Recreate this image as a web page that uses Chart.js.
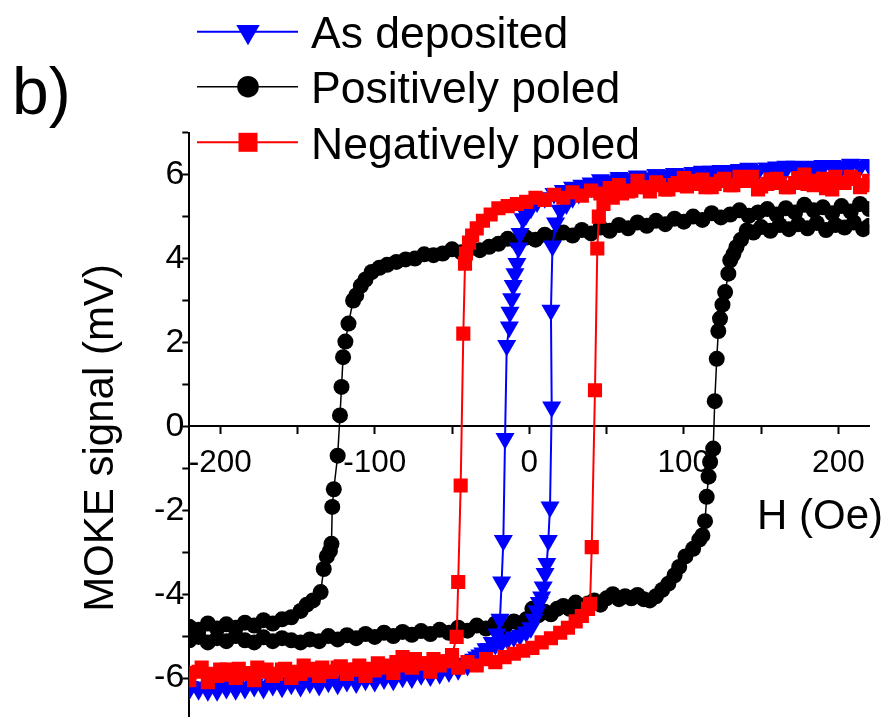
<!DOCTYPE html>
<html>
<head>
<meta charset="utf-8">
<script src="https://cdn.jsdelivr.net/npm/chart.js@4.4.0/dist/chart.umd.min.js"></script>
<style>
  html, body { margin: 0; padding: 0; background: #fff; overflow: hidden; }
  #wrap { width: 891px; height: 760px; }
</style>
</head>
<body>
<div id="wrap"><canvas id="moke" width="891" height="760"></canvas></div>
<script>
// As deposited: field sweep down (+220 -> -220), then up (-220 -> +220)
const depDownH = [220,214,208,202,196,190,184,178,172,166, 160,154,148,142,136,130,124,118,112,106,
  100,94,88,82,76,70,64,58,52,46, 40,34,28,22,16,10,5,1,-2,-4,
  -6,-7,-8,-9.3,-10.4,-11.4,-12.5,-12.9,-14.6,-15.7, -16.8,-17.9,-19,-21,-24,-28,-32,-36,-40,-46,
  -52,-58,-64,-70,-76,-82,-88,-94,-100,-106, -112,-118,-124,-130,-136,-142,-148,-154,-160,-166,
  -172,-178,-184,-190,-196,-202,-208,-214,-220];
const depDownM = [6.22,6.18,6.24,6.15,6.2,6.22,6.12,6.18,6.15,6.2, 6.1,6.15,6.08,6.12,6.05,6.1,6.02,6.08,6.0,6.05,
  5.98,6.03,5.95,6.0,5.92,5.97,5.9,5.93,5.85,5.88, 5.8,5.75,5.7,5.62,5.55,5.45,5.35,5.2,5.05,4.95,
  4.6,4.25,3.88,3.64,3.36,3.04,2.72,2.37,1.93,-0.29, -2.72,-3.71,-4.6,-4.95,-5.15,-5.3,-5.45,-5.55,-5.7,-5.8,
  -5.85,-5.9,-5.95,-5.92,-6.0,-5.98,-6.05,-6.02,-6.08,-6.05, -6.12,-6.08,-6.15,-6.1,-6.18,-6.12,-6.2,-6.15,-6.22,-6.18,
  -6.25,-6.2,-6.22,-6.28,-6.2,-6.25,-6.3,-6.22,-6.27];
const depUpH = [-220,-214,-208,-202,-196,-190,-184,-178,-172,-166, -160,-154,-148,-142,-136,-130,-124,-118,-112,-106,
  -100,-94,-88,-82,-76,-70,-64,-58,-52,-46, -40,-34,-30,-26,-22,-18,-14,-10,-6,-2,
  1,3,5,6.5,8,9,10.2,11.3,12.3,13.4, 14.5,14,15,17,20,24,28,32,36,40,
  46,52,58,64,70,76,82,88,94,100, 106,112,118,124,130,136,142,148,154,160,
  166,172,178,184,190,196,202,208,214,220];
const depUpM = [-6.2,-6.28,-6.22,-6.3,-6.25,-6.18,-6.25,-6.15,-6.2,-6.12, -6.18,-6.1,-6.15,-6.08,-6.12,-6.05,-6.1,-6.02,-6.08,-6.0,
  -6.05,-5.98,-6.02,-5.95,-5.98,-5.9,-5.92,-5.85,-5.82,-5.75, -5.65,-5.5,-5.4,-5.3,-5.2,-5.15,-5.08,-5.02,-4.98,-4.9,
  -4.8,-4.6,-4.4,-4.2,-4.07,-3.83,-3.51,-3.27,-2.72,-1.92, 0.46,2.77,4.3,4.85,5.15,5.3,5.45,5.55,5.62,5.7,
  5.78,5.82,5.88,5.9,5.95,5.92,6.0,5.98,6.02,6.0, 6.05,6.08,6.05,6.1,6.08,6.12,6.15,6.1,6.15,6.18,
  6.12,6.2,6.15,6.2,6.18,6.22,6.2,6.25,6.2,6.24];

// Positively poled
const posDownH = [220,214,208,202,196,190,184,178,172,166, 160,154,148,142,136,130,124,118,112,106,
  100,94,88,82,76,70,64,58,52,46, 40,34,28,22,16,10,4,-2,-8,-14,
  -20,-26,-32,-38,-44,-50,-56,-62,-68,-74, -80,-86,-92,-97,-102,-106,-109,-112,-114,-117,
  -119,-120.5,-121.5,-122.5,-124,-126.5,-127.5,-128,-129,-131, -133,-135,-140,-144,-148,-154,-160,-166,-172,-178,
  -184,-190,-196,-202,-208,-214,-220];
const posDownM = [5.18,5.3,5.12,5.25,5.08,5.22,5.15,5.28,5.1,5.2, 5.05,5.18,5.1,5.02,5.15,5.05,4.98,5.08,4.92,5.0,
  4.88,4.95,4.82,4.9,4.78,4.86,4.72,4.8,4.66,4.74, 4.6,4.68,4.55,4.62,4.5,4.57,4.45,4.5,4.4,4.47,
  4.35,4.28,4.2,4.25,4.15,4.22,4.12,4.08,4.1,4.0, 3.98,3.92,3.85,3.78,3.68,3.5,3.35,3.12,3.0,2.45,
  2.02,1.65,0.94,0.26,-0.7,-1.5,-1.92,-2.8,-2.97,-3.1, -3.4,-3.95,-4.15,-4.25,-4.4,-4.55,-4.6,-4.7,-4.62,-4.75,
  -4.68,-4.8,-4.72,-4.82,-4.7,-4.85,-4.78];
const posUpH = [-220,-214,-208,-202,-196,-190,-184,-178,-172,-166, -160,-154,-148,-142,-136,-130,-124,-118,-112,-106,
  -100,-94,-88,-82,-76,-70,-64,-58,-52,-46, -40,-34,-28,-22,-16,-10,-6,-2,2,6,
  10,14,18,22,26,30,34,38,42,46, 50,54,58,62,66,70,74,78,82,86,
  90,94,97,101,106,110,112,113.7,114.8,116, 117,119,120,121.3,122.3,123.4,125,126.7,128.8,130,
  132,134,137,140.7,145,150,156,162,168,174, 180,186,192,198,204,210,216,220];
const posUpM = [-5.1,-5.02,-5.15,-5.05,-5.12,-5.0,-5.1,-5.15,-5.03,-5.12, -5.05,-5.1,-5.15,-5.08,-5.12,-5.0,-5.08,-4.98,-5.05,-4.95,
  -5.02,-4.92,-5.0,-4.9,-4.97,-4.88,-4.95,-4.85,-4.92,-4.8, -4.87,-4.75,-4.82,-4.7,-4.78,-4.65,-4.7,-4.6,-4.35,-4.5,
  -4.42,-4.48,-4.35,-4.28,-4.35,-4.2,-4.28,-4.22,-4.15,-4.25, -4.1,-4.0,-4.12,-4.05,-4.1,-4.02,-4.12,-4.15,-4.05,-3.9,
  -3.75,-3.55,-3.35,-3.1,-2.92,-2.7,-2.6,-2.26,-1.68,-1.2, -0.85,-0.53,0.6,1.61,2.27,2.57,2.9,3.2,3.64,3.96,
  4.1,4.27,4.45,4.67,4.62,4.75,4.66,4.8,4.7,4.82, 4.72,4.85,4.68,4.8,4.74,4.86,4.7,4.78];

// Negatively poled
const negDownH = [220,214,208,202,196,190,184,178,172,166, 160,154,148,142,136,130,124,118,112,106,
  100,94,88,82,76,70,64,58,52,46, 40,34,28,22,16,10,4,-2,-8,-14,
  -20,-25,-30,-34,-37,-39,-41,-41.6,-42.7,-44.4, -46,-47,-50,-56,-62,-68,-74,-80,-86,-92,
  -98,-104,-110,-116,-122,-128,-134,-140,-146,-152, -158,-164,-170,-176,-182,-188,-194,-200,-206,-212,
  -220];
const negDownM = [5.85,5.7,5.95,5.8,5.65,5.9,5.75,6.0,5.8,5.7, 5.9,5.78,5.65,5.85,5.95,5.75,5.85,5.7,5.88,5.78,
  5.92,5.75,5.65,5.82,5.7,5.85,5.6,5.75,5.68,5.55, 5.62,5.5,5.58,5.45,5.52,5.4,5.45,5.35,5.3,5.25,
  5.2,5.05,4.9,4.72,4.55,4.38,4.12,3.88,2.21,-1.41, -3.71,-5.02,-5.45,-5.6,-5.55,-5.65,-5.55,-5.7,-5.62,-5.75,
  -5.65,-5.78,-5.7,-5.8,-5.72,-5.85,-5.75,-5.82,-5.7,-5.85, -5.78,-5.9,-5.8,-5.75,-5.88,-5.78,-5.92,-5.8,-5.9,-5.75,
  -5.88];
const negUpH = [-220,-214,-208,-202,-196,-190,-184,-178,-172,-166, -160,-154,-148,-142,-136,-130,-124,-118,-112,-106,
  -100,-94,-88,-82,-76,-70,-64,-58,-52,-46, -40,-34,-28,-22,-16,-10,-4,2,8,14,
  20,25,30,34,38,39.3,40.4,42.5,44,45, 48,54,60,66,72,78,84,90,96,102,
  108,114,120,126,132,138,144,150,156,162, 168,174,180,186,192,198,204,210,216,220];
const negUpM = [-6.05,-5.85,-6.1,-5.95,-5.8,-6.0,-5.9,-6.05,-5.85,-5.95, -5.8,-6.0,-5.9,-5.78,-5.95,-5.85,-5.75,-5.9,-5.8,-5.95,
  -5.82,-5.7,-5.88,-5.5,-5.75,-5.65,-5.85,-5.7,-5.6,-5.75, -5.62,-5.7,-5.55,-5.62,-5.5,-5.42,-5.35,-5.28,-5.15,-5.05,
  -4.92,-4.8,-4.65,-4.52,-4.35,-4.23,-2.88,0.86,4.24,5.0, 5.3,5.45,5.55,5.62,5.7,5.6,5.75,5.65,5.8,5.72,
  5.85,5.7,5.78,5.9,5.75,5.85,5.95,5.72,5.88,5.8, 5.7,5.92,5.78,5.85,5.68,5.95,5.8,5.9,5.75,5.82];

const seriesNames = ['As deposited', 'Positively poled', 'Negatively poled'];
const xTickLabels = ['-200', '-100', '0', '100', '200'];
const yTickLabels = ['-6', '-4', '-2', '0', '2', '4', '6'];

const FONT = "'Liberation Sans', Arial, Helvetica, sans-serif";
Chart.defaults.font.family = FONT;
Chart.defaults.color = '#000';

function loop(downH, downM, upH, upM) {
    const pts = [];
    downH.forEach((h, i) => pts.push({ x: h, y: downM[i] }));
    upH.forEach((h, i) => pts.push({ x: h, y: upM[i] }));
    return pts;
}

function drawMarker(ctx, style, x, y, r) {
    ctx.beginPath();
    if (style === 'triangle') {
        // pointing down
        ctx.moveTo(x, y + r);
        ctx.lineTo(x - r * 0.866, y - r / 2);
        ctx.lineTo(x + r * 0.866, y - r / 2);
        ctx.closePath();
    } else if (style === 'circle') {
        ctx.arc(x, y, r, 0, Math.PI * 2);
    } else {
        ctx.rect(x - r, y - r, 2 * r, 2 * r);
    }
    ctx.fill();
}

const legendRows = [
    { name: seriesNames[0], color: '#0000ff', style: 'triangle', r: 13.5, lw: 2, y: 31.7 },
    { name: seriesNames[1], color: '#000000', style: 'circle', r: 10.8, lw: 1.5, y: 86.7 },
    { name: seriesNames[2], color: '#ff0000', style: 'rect', r: 9.5, lw: 2, y: 142.3 }
];

const annotations = {
    id: 'annotations',
    afterDraw(chart) {
        const ctx = chart.ctx;
        ctx.save();
        ctx.fillStyle = '#000';
        ctx.textBaseline = 'alphabetic';

        ctx.font = '66px ' + FONT;
        ctx.textAlign = 'left';
        ctx.fillText('b)', 12, 114);

        for (const row of legendRows) {
            ctx.strokeStyle = row.color;
            ctx.lineWidth = row.lw;
            ctx.beginPath();
            ctx.moveTo(197, row.y);
            ctx.lineTo(298, row.y);
            ctx.stroke();
            ctx.fillStyle = row.color;
            drawMarker(ctx, row.style, 248, row.y, row.r);
            ctx.fillStyle = '#000';
            ctx.font = '44.5px ' + FONT;
            ctx.fillText(row.name, 311, row.y + 16.5);
        }

        ctx.font = '42px ' + FONT;
        ctx.fillText('H (Oe)', 757, 529);

        ctx.translate(113, 438);
        ctx.rotate(-Math.PI / 2);
        ctx.textAlign = 'center';
        ctx.fillText('MOKE signal (mV)', 0, 0);
        ctx.restore();
    }
};

const ctx = document.getElementById('moke').getContext('2d');
new Chart(ctx, {
    type: 'scatter',
    data: {
        datasets: [
            {
                label: seriesNames[2],
                data: loop(negDownH, negDownM, negUpH, negUpM),
                showLine: true,
                borderColor: '#ff0000',
                backgroundColor: '#ff0000',
                borderWidth: 2,
                pointStyle: 'rect',
                pointRadius: 10,
                pointBorderWidth: 0,
                order: 0
            },
            {
                label: seriesNames[0],
                data: loop(depDownH, depDownM, depUpH, depUpM),
                showLine: true,
                borderColor: '#0000ff',
                backgroundColor: '#0000ff',
                borderWidth: 2,
                pointStyle: 'triangle',
                pointRotation: 180,
                pointRadius: 11,
                pointBorderWidth: 0,
                order: 1
            },
            {
                label: seriesNames[1],
                data: loop(posDownH, posDownM, posUpH, posUpM),
                showLine: true,
                borderColor: '#000000',
                backgroundColor: '#000000',
                borderWidth: 1.5,
                pointStyle: 'circle',
                pointRadius: 8,
                pointBorderWidth: 0,
                order: 2
            }
        ]
    },
    options: {
        responsive: false,
        animation: false,
        events: [],
        layout: { padding: { top: 132.7, bottom: 40, left: 129.3, right: 21.7 } },
        plugins: { legend: { display: false }, tooltip: { enabled: false } },
        scales: {
            x: {
                type: 'linear',
                position: { y: 0 },
                min: -220,
                max: 220,
                grid: { drawOnChartArea: false, drawTicks: true, tickLength: 7, tickWidth: 2, color: '#000' },
                border: { display: true, color: '#000', width: 2 },
                ticks: {
                    stepSize: 50,
                    includeBounds: false,
                    autoSkip: false,
                    maxRotation: 0,
                    padding: 11,
                    font: { size: 31.5 },
                    callback: v => xTickLabels.includes(String(v)) ? String(v) : ''
                }
            },
            y: {
                type: 'linear',
                position: 'left',
                min: -7,
                max: 7,
                afterFit: scale => { scale.width = 60; },
                grid: { drawOnChartArea: false, drawTicks: true, tickLength: 7, tickWidth: 2, color: '#000' },
                border: { display: true, color: '#000', width: 2 },
                ticks: {
                    stepSize: 1,
                    autoSkip: false,
                    padding: -2,
                    font: { size: 34 },
                    callback: v => yTickLabels.includes(String(v)) ? String(v) : ''
                }
            }
        }
    },
    plugins: [annotations]
});
</script>
</body>
</html>
